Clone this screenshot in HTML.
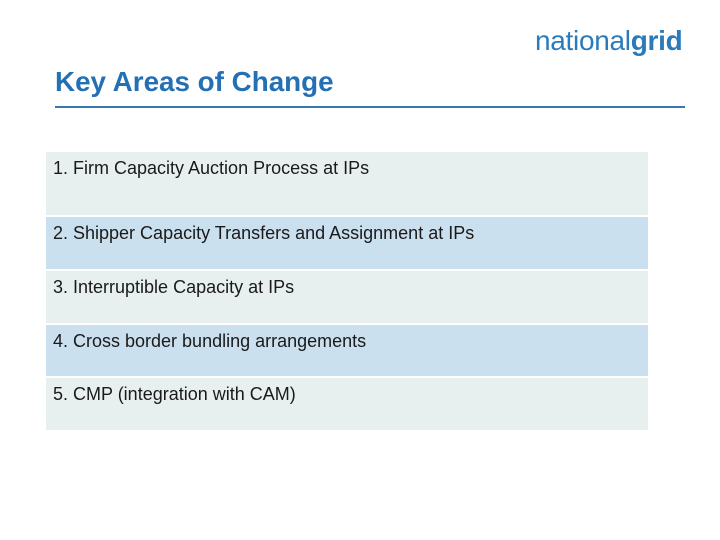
<!DOCTYPE html>
<html><head><meta charset="utf-8"><style>
body{margin:0;width:720px;height:540px;background:#fff;position:relative;overflow:hidden;font-family:"Liberation Sans",sans-serif}
.logo{position:absolute;left:535px;top:25px;font-size:28px;color:#2b7bbb;letter-spacing:-0.3px}
.logo b{font-weight:bold}
.title{position:absolute;left:55px;top:66px;font-size:27.8px;font-weight:bold;color:#2470b4}
.rule{position:absolute;left:55px;top:106px;width:630px;height:2px;background:#3a78b0}
.row{position:absolute;left:46px;width:602px;box-sizing:border-box;padding:6px 0 0 7px;font-size:18px;color:#1a1a1a}
.g{background:#e8f0ef}.b{background:#cbe0ee}
</style></head><body>
<div class="logo">national<b>grid</b></div>
<div class="title">Key Areas of Change</div>
<div class="rule"></div>
<div class="row g" style="top:152px;height:63px">1. Firm Capacity Auction Process at IPs</div>
<div class="row b" style="top:217px;height:52px">2. Shipper Capacity Transfers and Assignment at IPs</div>
<div class="row g" style="top:271px;height:52px">3. Interruptible Capacity at IPs</div>
<div class="row b" style="top:325px;height:51px">4. Cross border bundling arrangements</div>
<div class="row g" style="top:378px;height:52px">5. CMP (integration with CAM)</div>
</body></html>
